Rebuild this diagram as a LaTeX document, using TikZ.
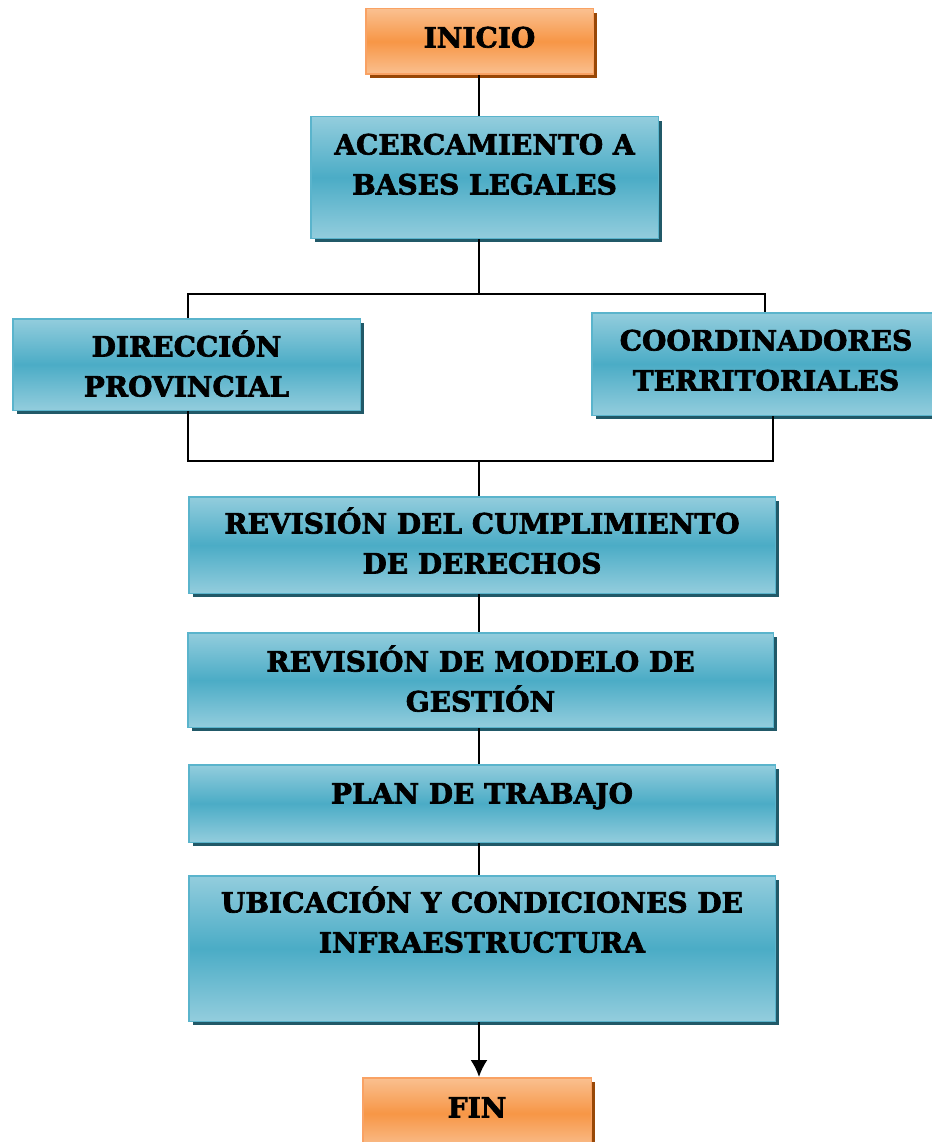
\documentclass[tikz,border=0pt]{standalone}
\usepackage{fontspec}
\newfontfamily\boxfont{DejaVu Serif}[BoldFeatures={FakeBold=2.4}]
\usetikzlibrary{shadows,arrows.meta}
\definecolor{bluelight}{HTML}{93CDDD}
\definecolor{bluemid}{HTML}{4BACC6}
\definecolor{blueborder}{HTML}{5AB4CC}
\definecolor{blueshadow}{HTML}{215968}
\definecolor{orlight}{HTML}{FAC090}
\definecolor{ormid}{HTML}{F79646}
\definecolor{orborder}{HTML}{F9A264}
\definecolor{orshadow}{HTML}{984807}
\tikzset{
  bluebox/.style={rectangle, draw=blueborder, line width=1.5pt, inner sep=0pt,
    top color=bluelight, bottom color=bluelight, middle color=bluemid,
    general shadow={fill=blueshadow, shadow xshift=4pt, shadow yshift=-4pt}},
  orbox/.style={rectangle, draw=orborder, line width=1.5pt, inner sep=0pt,
    top color=orlight, bottom color=orlight, middle color=ormid,
    general shadow={fill=orshadow, shadow xshift=4pt, shadow yshift=-4pt}},
  boxtext/.style={align=center, anchor=base, inner sep=0pt,
    font=\boxfont\bfseries\fontsize{28}{40}\selectfont},
  conn/.style={line width=2pt, black}
}
\begin{document}
\begin{tikzpicture}[x=1pt,y=-1pt]
\useasboundingbox (0,0) rectangle (931,1142);
% boxes
\node[orbox, minimum width=227.5pt, minimum height=65.5pt] (inicio) at (479.5,41.5) {};
\node[bluebox, minimum width=347.5pt, minimum height=121.5pt] (acerc) at (484.5,177.5) {};
\node[bluebox, minimum width=347.5pt, minimum height=91.5pt] (dir) at (186.5,364.5) {};
\node[bluebox, minimum width=348.5pt, minimum height=102.5pt] (coord) at (766,364) {};
\node[bluebox, minimum width=586.5pt, minimum height=96.5pt] (rev1) at (482,545) {};
\node[bluebox, minimum width=585.5pt, minimum height=94.5pt] (rev2) at (480.5,680) {};
\node[bluebox, minimum width=586.5pt, minimum height=77.5pt] (plan) at (482,803.5) {};
\node[bluebox, minimum width=586.5pt, minimum height=145.5pt] (ubic) at (482,948.5) {};
\node[orbox, minimum width=228.5pt, minimum height=71.5pt] (fin) at (477,1113.5) {};
% texts (anchor = baseline of last line)
\node[boxtext] (inicioT) at (479.5,47.5) {INICIO};
\node[boxtext] (acercT) at (484.5,194.5) {ACERCAMIENTO A\\BASES LEGALES};
\node[boxtext] (dirT) at (186.5,396.5) {DIRECCIÓN\\PROVINCIAL};
\node[boxtext] (coordT) at (766,390.5) {COORDINADORES\\TERRITORIALES};
\node[boxtext] (rev1T) at (482,573.5) {REVISIÓN DEL CUMPLIMIENTO\\DE DERECHOS};
\node[boxtext] (rev2T) at (480.5,711.5) {REVISIÓN DE MODELO DE\\GESTIÓN};
\node[boxtext] (planT) at (482,803.5) {PLAN DE TRABAJO};
\node[boxtext] (ubicT) at (482,952.5) {UBICACIÓN Y CONDICIONES DE\\INFRAESTRUCTURA};
\node[boxtext] (finT) at (477,1117.5) {FIN};
% connectors
\coordinate (jtop) at (479,294);
\coordinate (jbot) at (479,461);
\coordinate (hl) at (188,294);
\coordinate (hr) at (765,294);
\coordinate (bl) at (188,461);
\coordinate (br) at (773,461);
\draw[conn] (inicio.south -| jtop) -- (acerc.north -| jtop);
\draw[conn] (acerc.south -| jtop) -- (jtop);
\draw[conn] (hl |- dir.north) -- (hl) -- (hr) -- (hr |- coord.north);
\draw[conn] (bl |- dir.south) -- (bl) -- (br) -- (br |- coord.south);
\draw[conn] (jbot) -- (rev1.north -| jbot);
\draw[conn] (rev1.south -| jbot) -- (rev2.north -| jbot);
\draw[conn] (rev2.south -| jbot) -- (plan.north -| jbot);
\draw[conn] (plan.south -| jbot) -- (ubic.north -| jbot);
\draw[conn, -{Latex[length=17pt,width=17pt]}] (ubic.south -| jbot) -- (fin.north -| jbot);
\end{tikzpicture}
\end{document}
